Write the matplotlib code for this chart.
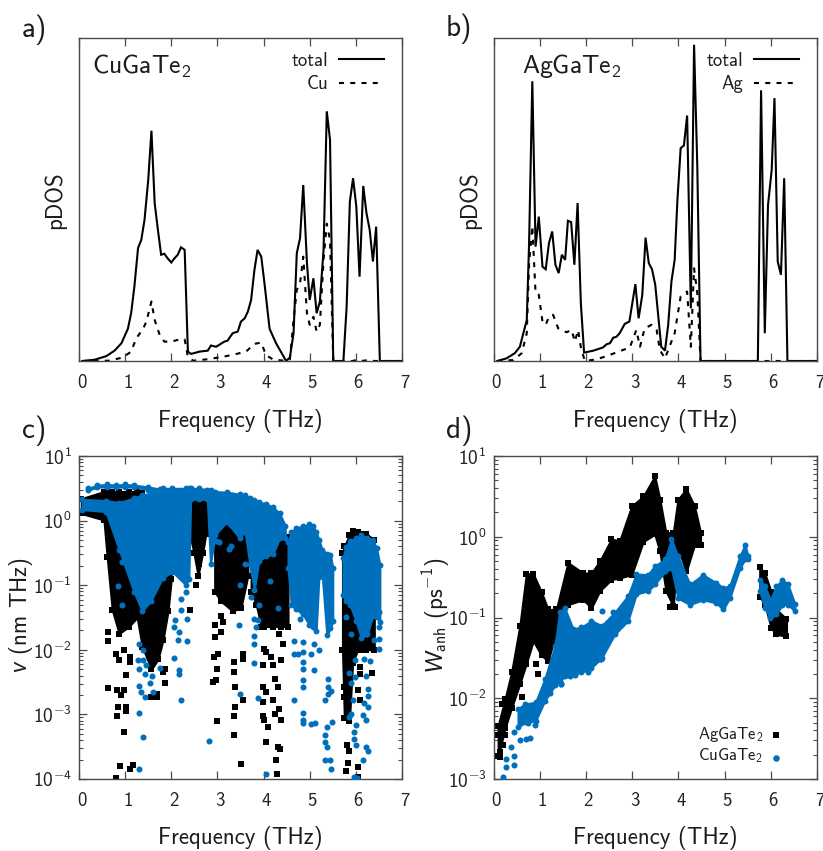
import numpy as np
import matplotlib
matplotlib.use('Agg')
import matplotlib.pyplot as plt
from matplotlib.lines import Line2D
from matplotlib.ticker import FixedLocator, NullFormatter
from matplotlib.transforms import ScaledTranslation

plt.rcParams['font.family'] = ['cmss10', 'DejaVu Sans']
plt.rcParams['mathtext.fontset'] = 'custom'
plt.rcParams['mathtext.rm'] = 'cmss10'
plt.rcParams['mathtext.sf'] = 'cmss10'
plt.rcParams['mathtext.it'] = 'Lato:italic'
plt.rcParams['mathtext.fallback'] = 'cm'
plt.rcParams['axes.unicode_minus'] = False

W, H = 823, 851
BLUE = '#0070bc'
EDGE = '#4a4a4a'

# a) CuGaTe2 pDOS
cu_freq = [0.07, 0.34, 0.59, 0.77, 0.92, 1.06, 1.13, 1.20, 1.28, 1.35, 1.42, 1.50, 1.57, 1.64, 1.71, 1.78, 1.85, 1.92, 2.00, 2.07, 2.14, 2.21, 2.29, 2.36, 2.43, 2.61, 2.79, 2.86, 2.97, 3.15, 3.22, 3.33, 3.44, 3.51, 3.59, 3.66, 3.73, 3.80, 3.87, 3.95, 4.02, 4.13, 4.27, 4.49, 4.57, 4.65, 4.72, 4.79, 4.86, 4.94, 5.00, 5.08, 5.15, 5.22, 5.30, 5.37, 5.44, 5.51, 5.73, 5.80, 5.87, 5.94, 6.01, 6.08, 6.16, 6.23, 6.30, 6.37, 6.44, 6.52, 7.00]
cu_total = [0, 0.4, 1.5, 3.2, 5.5, 10, 14.8, 23, 35, 37.5, 43.7, 56, 71.3, 48.9, 40.6, 32.9, 33.2, 31.8, 30.5, 31.8, 32.9, 35.2, 34.4, 2.9, 2.2, 2.9, 3.2, 4.8, 4.4, 6, 6.3, 8.6, 9.1, 12.2, 13.2, 15.3, 18.9, 28, 34.4, 32.3, 24, 10, 5.5, 0, 1.1, 8.6, 33.4, 38, 54.5, 30.3, 18.9, 25.6, 14.8, 18.4, 34.4, 77.3, 68.5, 0, 0, 16.8, 49.4, 56.6, 47.8, 26.1, 54.2, 45.8, 40.6, 30.8, 41.6, 0, 0]
cu_part_freq = [0.07, 0.66, 0.95, 1.13, 1.24, 1.39, 1.46, 1.57, 1.64, 1.75, 1.85, 2.00, 2.18, 2.29, 2.36, 2.47, 2.76, 3.04, 3.33, 3.62, 3.80, 3.95, 4.05, 4.20, 4.49, 4.57, 4.65, 4.72, 4.79, 4.86, 4.94, 5.00, 5.08, 5.15, 5.22, 5.30, 5.37, 5.44, 5.51, 5.93, 6.00, 6.11, 6.29, 6.40, 7.00]
cu_part = [0, 0.1, 1.1, 2.9, 7, 10, 12.2, 18.4, 12.7, 8, 6, 6, 6.7, 6.7, 1.3, 0.1, 0.5, 1.1, 1.9, 2.9, 5.3, 5.7, 1.9, 0.5, 0, 0.5, 12.7, 22, 24, 32.3, 14.8, 11.2, 13.7, 9.1, 11.2, 31.3, 42.5, 37.5, 0, 0, 0.3, 0, 0.3, 0, 0]

# b) AgGaTe2 pDOS
ag_freq = [0.08, 0.28, 0.46, 0.57, 0.72, 0.77, 0.84, 0.91, 0.98, 1.06, 1.13, 1.20, 1.27, 1.34, 1.41, 1.48, 1.55, 1.61, 1.68, 1.75, 1.82, 1.89, 1.96, 2.16, 2.37, 2.45, 2.52, 2.59, 2.66, 2.73, 2.84, 2.94, 3.07, 3.14, 3.22, 3.29, 3.36, 3.43, 3.50, 3.58, 3.63, 3.71, 3.78, 3.85, 3.92, 3.98, 4.05, 4.12, 4.19, 4.27, 4.34, 4.41, 4.48, 5.72, 5.79, 5.87, 5.94, 6.02, 6.08, 6.15, 6.22, 6.29, 6.36, 7.00]
ag_total = [0, 0.8, 2.4, 4.4, 12.7, 36.5, 86.6, 35.4, 44.7, 29.2, 28.4, 36.5, 40.1, 29.8, 27.2, 32.9, 31.3, 43.4, 43, 29.8, 48.9, 17.9, 2.6, 3.2, 4.2, 5.2, 5.5, 7.2, 7.5, 8.6, 11.5, 12.2, 23.8, 13.2, 20.5, 38.2, 30.3, 28.4, 23.6, 11.7, 4.4, 3.2, 11.2, 24.6, 31.3, 49.9, 65.9, 66.7, 76, 16.3, 97.9, 60.2, 0, 0, 83.8, 8.6, 48.3, 59.2, 81.4, 30.8, 26.7, 56.6, 0, 0]
ag_part_freq = [0.08, 0.43, 0.61, 0.72, 0.77, 0.84, 0.91, 0.98, 1.06, 1.13, 1.20, 1.29, 1.40, 1.58, 1.69, 1.76, 1.83, 1.90, 1.98, 2.23, 2.52, 2.95, 3.09, 3.17, 3.27, 3.42, 3.53, 3.60, 3.71, 3.78, 3.92, 4.05, 4.19, 4.27, 4.34, 4.41, 4.48, 5.97, 6.05, 6.12, 7.00]
ag_part = [0, 0.3, 2.4, 8.6, 30, 41.8, 21, 20.5, 12.2, 11.2, 13.7, 14.3, 10.1, 8.9, 9.6, 6, 9.6, 3.4, 0, 0.5, 1.9, 4.2, 9.6, 4.4, 10.1, 11.2, 9.6, 3.4, 0.8, 3.4, 8.6, 20, 21.5, 4.4, 28.7, 21, 0, 0, 0.2, 0, 0]

# c) group velocity, log10 values. Dense masses are given as upper / lower edges
v_ag_groups = [
    ([0.05, 0.54, 0.61, 0.72, 0.87, 1.08, 1.26, 1.37, 1.57, 1.71, 1.82, 1.93, 2.00],
     [0.34, 0.45, 0.45, 0.45, 0.45, 0.45, 0.45, 0.42, 0.30, 0.30, 0.30, 0.30, 0.20],
     [0.11, 0.01, -0.56, -1.38, -1.75, -1.64, -1.50, -1.95, -2.30, -2.15, -1.85, -1.40, -0.90]),
    ([2.40, 2.49, 2.58, 2.68, 2.75, 2.90, 3.01],
     [0.30, 0.30, 0.30, 0.30, 0.30, 0.28, 0.20],
     [-0.20, -0.50, -0.85, -0.50, -0.20, 0.10, 0.15]),
    ([2.94, 3.08, 3.33, 3.51, 3.66],
     [-0.25, -0.02, -0.02, -0.10, -0.40],
     [-1.10, -1.25, -1.40, -1.35, -0.85]),
    ([3.73, 3.84, 3.95, 4.02, 4.20, 4.38, 4.53],
     [-0.50, -0.50, -0.55, -0.55, -0.45, -0.30, -0.25],
     [-1.10, -1.30, -1.64, -1.64, -1.64, -1.64, -1.64]),
    ([5.71, 5.75, 5.86, 5.93, 6.04, 6.15, 6.22, 6.40],
     [-0.50, -0.40, -0.22, -0.16, -0.17, -0.20, -0.20, -0.30],
     [-2.00, -3.05, -3.10, -2.20, -2.00, -2.00, -2.00, -2.00]),
]
v_cu_groups = [
    ([0.20, 0.40, 0.60, 0.80, 1.00, 1.20, 1.50, 1.75],
     [0.50, 0.55, 0.56, 0.55, 0.56, 0.55, 0.52, 0.49],
     [0.47, 0.52, 0.52, 0.52, 0.52, 0.52, 0.48, 0.46]),
    ([0.07, 0.58, 0.87, 1.19, 1.37, 1.55, 1.81, 2.02, 2.31, 2.38, 2.42, 2.60, 2.78, 2.85, 2.95, 3.20, 3.48, 3.60, 3.70, 3.80, 3.90, 4.05, 4.20, 4.35, 4.47],
     [0.33, 0.31, 0.28, 0.35, 0.40, 0.42, 0.50, 0.50, 0.50, 0.50, 0.50, 0.50, 0.48, 0.47, 0.45, 0.44, 0.41, 0.39, 0.35, 0.32, 0.29, 0.26, 0.21, 0.11, -0.08],
     [0.17, 0.14, -0.45, -1.10, -1.40, -1.25, -0.89, -0.79, -0.99, -0.90, 0.33, 0.33, 0.33, -0.67, -0.22, -0.02, -0.27, -0.17, -0.67, -1.07, -0.62, -0.55, -0.52, -0.27, -0.27]),
    ([4.53, 4.60, 4.70, 4.85, 4.99, 5.07, 5.14, 5.20, 5.27, 5.37, 5.45, 5.50],
     [-0.33, -0.18, -0.11, -0.09, -0.06, -0.09, -0.17, -0.30, -0.45, -0.51, -0.53, -0.73],
     [-0.74, -1.30, -1.37, -1.45, -1.61, -1.65, -1.71, -0.87, -0.84, -1.77, -1.67, -1.55]),
    ([5.72, 5.78, 5.87, 6.00, 6.12, 6.25, 6.37, 6.45, 6.52],
     [-0.58, -0.41, -0.31, -0.27, -0.23, -0.27, -0.30, -0.43, -0.68],
     [-1.15, -1.25, -1.30, -1.55, -1.82, -1.75, -1.47, -1.50, -1.57]),
]
v_ag_freq = [0.63, 0.63, 0.63, 0.81, 0.87, 0.97, 1.10, 1.10, 1.01, 0.82, 0.97, 0.91, 0.84, 0.83, 1.01, 1.01, 0.97, 0.88, 0.81, 1.10, 1.18, 1.87, 1.87, 1.82, 1.69, 1.57, 1.69, 2.99, 2.91, 2.97, 2.99, 2.92, 3.02, 2.94, 3.08, 2.94, 3.13, 3.08, 3.35, 3.35, 3.55, 3.55, 3.39, 3.55, 3.39, 3.35, 3.35, 3.51, 4.05, 3.98, 4.02, 4.05, 4.16, 4.20, 4.24, 3.98, 4.05, 4.31, 3.98, 4.20, 4.34, 4.24, 3.98, 4.02, 4.38, 4.09, 4.31, 4.36, 4.26, 4.29, 5.75, 5.75, 5.82, 6.08, 6.08, 6.04, 6.08, 6.35, 5.80, 5.86, 5.82, 5.79, 6.04, 6.04, 2.40, 2.54, 2.61, 4.34, 4.42, 4.38]
v_ag_log = [-1.73, -1.87, -2.59, -2.07, -2.16, -2.01, -2.11, -2.19, -2.39, -2.63, -2.62, -2.70, -2.88, -3.03, -2.88, -2.95, -3.28, -3.80, -3.98, -3.85, -3.79, -2.52, -2.29, -2.34, -2.73, -2.73, -2.68, -3.10, -2.50, -2.47, -2.29, -2.11, -2.06, -1.80, -1.72, -1.62, -1.57, -1.47, -2.19, -2.34, -2.14, -2.06, -2.57, -2.77, -2.89, -3.02, -3.32, -3.77, -3.43, -2.24, -1.98, -2.03, -2.11, -2.24, -2.45, -2.58, -2.65, -2.58, -2.81, -2.78, -2.91, -2.99, -3.02, -3.09, -3.09, -3.20, -3.50, -3.54, -3.70, -3.93, -2.58, -2.73, -2.89, -2.27, -2.37, -2.63, -2.78, -2.36, -3.48, -3.56, -3.76, -3.87, -3.82, -3.97, -1.38, -0.99, -0.67, -1.75, -1.91, -2.16]
v_cu_freq = [1.29, 1.31, 1.39, 1.28, 1.39, 1.46, 1.31, 1.42, 1.53, 1.59, 1.35, 1.42, 1.60, 1.76, 1.31, 1.39, 1.30, 2.22, 2.16, 2.16, 2.05, 2.14, 2.34, 2.16, 2.05, 2.07, 2.34, 2.22, 2.22, 2.32, 2.81, 4.05, 3.80, 3.87, 3.48, 3.46, 4.14, 3.48, 3.29, 3.30, 2.97, 3.04, 3.26, 3.59, 4.65, 4.65, 4.67, 4.74, 4.85, 4.85, 4.86, 4.86, 4.86, 4.86, 4.85, 4.86, 4.86, 5.03, 5.12, 5.10, 5.21, 5.10, 5.03, 5.39, 5.39, 5.39, 5.46, 5.34, 5.38, 5.48, 5.34, 5.34, 5.37, 5.34, 5.43, 5.46, 5.97, 6.02, 5.86, 5.99, 5.89, 5.99, 6.18, 6.31, 6.22, 6.26, 6.26, 6.18, 6.26, 6.15, 6.22, 5.93, 5.89, 5.86, 6.00, 5.95, 5.97, 6.00, 6.22, 6.26, 6.16, 6.50, 6.50, 6.50, 6.50, 6.40, 6.22, 5.89, 5.79, 4.78, 3.80, 3.87, 3.80, 3.80, 4.31, 3.91, 3.73, 3.84, 0.94, 0.84, 0.94, 0.99]
v_cu_log = [-2.56, -1.91, -2.01, -2.16, -2.16, -2.24, -2.29, -2.37, -2.52, -2.40, -2.65, -2.73, -2.65, -2.28, -2.98, -3.35, -3.84, -2.77, -2.32, -2.37, -2.13, -1.85, -1.86, -1.72, -1.65, -1.54, -1.53, -1.39, -1.21, -1.11, -3.41, -3.92, -2.20, -2.74, -2.68, -1.61, -0.94, -1.00, -0.07, -0.40, -0.32, -0.33, -0.44, -0.67, -2.78, -1.86, -2.06, -2.06, -2.03, -2.19, -1.88, -2.29, -2.46, -2.58, -2.98, -3.09, -3.14, -3.15, -3.14, -2.31, -2.01, -1.91, -2.06, -2.45, -2.58, -2.68, -2.64, -2.77, -3.20, -3.12, -3.32, -3.43, -3.50, -3.70, -3.71, -3.84, -3.97, -3.99, -2.36, -2.16, -2.51, -2.42, -2.14, -2.18, -2.40, -2.60, -2.71, -2.83, -2.89, -3.01, -3.09, -2.78, -2.99, -3.04, -3.17, -3.27, -3.38, -3.48, -3.50, -3.56, -3.70, -1.98, -1.83, -1.65, -1.41, -1.85, -1.75, -1.75, -1.49, -1.52, -1.52, -1.54, -1.78, -1.91, -1.36, -1.31, -1.18, -1.65, -1.31, -1.02, -0.64, -0.54]

# d) anharmonic scattering, log10 values
w_ag_groups = [
    ([0.10, 0.25, 0.39, 0.57, 0.71, 0.86, 1.04, 1.18, 1.36, 1.61, 1.94, 2.12, 2.30, 2.55, 2.73, 2.99, 3.24, 3.49, 3.60, 3.73, 3.89, 3.99, 4.17, 4.35, 4.48],
     [-2.34, -2.01, -1.68, -1.10, -0.46, -0.46, -0.69, -0.90, -0.90, -0.32, -0.45, -0.45, -0.30, -0.03, -0.05, 0.38, 0.50, 0.75, 0.46, 0.05, 0.05, 0.46, 0.59, 0.38, 0.05],
     [-2.72, -2.37, -2.12, -1.82, -1.57, -1.29, -1.47, -1.54, -1.17, -0.84, -0.78, -0.88, -0.67, -0.53, -0.51, -0.47, -0.06, 0.03, -0.18, -0.67, -0.86, -0.14, -0.43, -0.10, -0.10]),
    ([5.76, 5.87, 6.01, 6.12, 6.34],
     [-0.38, -0.45, -0.69, -0.90, -1.02],
     [-0.74, -0.84, -1.13, -1.21, -1.23]),
]
w_cu_groups = [
    ([0.53, 0.68, 0.91, 1.11, 1.33, 1.43, 1.54, 1.72, 1.90, 2.12, 2.34, 2.62, 2.91, 3.09, 3.34, 3.49, 3.71, 3.85, 3.99, 4.25, 4.53, 4.82, 4.97, 5.11, 5.33, 5.44, 5.51],
     [-2.13, -2.07, -2.05, -1.76, -1.35, -0.93, -0.88, -1.14, -1.12, -1.04, -1.10, -0.94, -0.73, -0.46, -0.47, -0.36, -0.28, -0.03, -0.24, -0.59, -0.47, -0.57, -0.63, -0.61, -0.24, -0.10, -0.24],
     [-2.36, -2.30, -2.28, -2.03, -1.84, -1.79, -1.73, -1.70, -1.68, -1.62, -1.50, -1.21, -1.04, -0.71, -0.67, -0.59, -0.43, -0.39, -0.76, -0.84, -0.78, -0.82, -0.90, -0.76, -0.39, -0.28, -0.28]),
    ([5.76, 5.87, 5.99, 6.12, 6.25, 6.37, 6.52],
     [-0.53, -0.61, -0.78, -0.61, -0.53, -0.59, -0.83],
     [-0.67, -0.88, -1.01, -0.96, -0.84, -0.84, -0.92]),
]
w_ag_freq = [0.97, 3.81, 3.92, 0.14, 0.14, 0.20, 0.10, 0.25, 0.21, 0.18, 0.61, 0.93]
w_ag_log = [-1.70, -0.87, -0.87, -2.67, -2.73, -2.58, -2.46, -2.46, -2.31, -2.07, -1.98, -1.57]
w_cu_freq = [0.21, 0.28, 0.28, 0.45, 0.44, 0.38, 0.45, 0.57, 0.70, 0.79, 2.35, 2.59, 2.30, 2.05, 1.65, 1.47, 2.32, 2.05, 1.76, 1.47, 1.22, 0.89, 0.75]
w_cu_log = [-2.98, -2.75, -2.85, -2.83, -2.71, -2.60, -2.42, -2.52, -2.50, -2.49, -0.92, -0.93, -1.51, -1.68, -1.72, -1.82, -1.51, -1.65, -1.71, -1.82, -1.94, -2.33, -2.31]

freq_ticks = [0, 1, 2, 3, 4, 5, 6, 7]


def make_axes(fig, x0, y0, x1, y1):
    ax = fig.add_axes([x0 / W, 1 - y1 / H, (x1 - x0) / W, (y1 - y0) / H])
    ax.set_xlim(0, 7)
    ax.set_xticks(freq_ticks)
    ax.tick_params(which='major', direction='in', top=True, right=True, length=6, width=0.9, color=EDGE,
                   labelsize=13.5, labelcolor='#222222', pad=9)
    ax.tick_params(which='minor', direction='in', top=True, right=True, length=3, width=0.8, color=EDGE)
    for spine in ax.spines.values():
        spine.set_color(EDGE)
        spine.set_linewidth(1.0)
    # the x labels sit a little right of their ticks in the original
    shift = ScaledTranslation(2.5 / 100, 0, fig.dpi_scale_trans)
    for label in ax.get_xticklabels():
        label.set_transform(label.get_transform() + shift)
    return ax


def dos_panel(ax, freq, total, part_freq, part):
    ax.set_ylim(0, 100)
    ax.set_yticks([])
    ax.tick_params(axis='y', left=False, right=False)
    ax.plot(freq, total, color='black', lw=1.5, solid_joinstyle='miter')
    ax.plot(part_freq, part, color='black', lw=1.5, linestyle=(0, (2.4, 3.0)))


def log_panel(ax, y_low, y_high):
    ax.set_yscale('log')
    ax.set_ylim(y_low, y_high)
    exps = list(range(int(np.log10(y_low)), int(np.log10(y_high)) + 1))
    ax.yaxis.set_major_locator(FixedLocator([10.0 ** e for e in exps]))
    ax.set_yticklabels([r'$\mathrm{10^{%d}}$' % e for e in exps], fontsize=14)
    minor = [m * 10.0 ** e for e in exps[:-1] for m in range(2, 10)]
    ax.yaxis.set_minor_locator(FixedLocator(minor))
    ax.yaxis.set_minor_formatter(NullFormatter())
    ax.tick_params(axis='y', which='major', pad=5)


def draw_groups(ax, groups, color, marker, z):
    # solid mass plus a marker on each edge point, the cloud is too dense to read one by one
    for freq, hi, lo in groups:
        hi_v = 10.0 ** np.array(hi)
        lo_v = 10.0 ** np.array(lo)
        ax.fill_between(freq, lo_v, hi_v, facecolor=color, edgecolor=color, linewidth=1.5, zorder=z)
        ax.scatter(freq, hi_v, c=color, marker=marker, s=18, linewidths=0, zorder=z)
        ax.scatter(freq, lo_v, c=color, marker=marker, s=18, linewidths=0, zorder=z)


def draw_points(ax, freq, logs, color, marker, size, z):
    ax.scatter(freq, 10.0 ** np.array(logs), c=color, marker=marker, s=size, linewidths=0, zorder=z)


fig = plt.figure(figsize=(W / 100, H / 100), dpi=100)


def put_text(px, py, s, size, ha='center', va='center', rotation=0):
    fig.text(px / W, 1 - py / H, s, fontsize=size, ha=ha, va=va, rotation=rotation, color='#1c1c1c')


def key_line(x0, x1, py, **style):
    fig.add_artist(Line2D([x0 / W, x1 / W], [1 - py / H, 1 - py / H], color='black', lw=1.5, **style))


ax_a = make_axes(fig, 79, 38, 402, 361)
dos_panel(ax_a, cu_freq, cu_total, cu_part_freq, cu_part)
ax_b = make_axes(fig, 493.5, 38, 817, 361)
dos_panel(ax_b, ag_freq, ag_total, ag_part_freq, ag_part)

ax_c = make_axes(fig, 79, 456, 402, 779)
log_panel(ax_c, 1e-4, 10)
draw_groups(ax_c, v_ag_groups, 'black', 's', 2)
draw_points(ax_c, v_ag_freq, v_ag_log, 'black', 's', 17, 2)
draw_groups(ax_c, v_cu_groups, BLUE, 'o', 3)
draw_points(ax_c, v_cu_freq, v_cu_log, BLUE, 'o', 19, 3)

ax_d = make_axes(fig, 493.5, 456, 817, 779)
log_panel(ax_d, 1e-3, 10)
draw_groups(ax_d, w_ag_groups, 'black', 's', 2)
draw_points(ax_d, w_ag_freq, w_ag_log, 'black', 's', 17, 2)
draw_groups(ax_d, w_cu_groups, BLUE, 'o', 3)
draw_points(ax_d, w_cu_freq, w_cu_log, BLUE, 'o', 19, 3)

# panel letters
put_text(34, 30, 'a)', 21)
put_text(459, 29, 'b)', 21)
put_text(34, 431, 'c)', 21)
put_text(459, 431, 'd)', 21)

# compound names
put_text(92, 66, r'$\mathrm{CuGaTe_2}$', 18.5, ha='left')
put_text(522, 66, r'$\mathrm{AgGaTe_2}$', 18.5, ha='left')

# axis labels
for x in (240, 655):
    put_text(x, 421, 'Frequency (THz)', 16.5)
    put_text(x, 838, 'Frequency (THz)', 16.5)
put_text(55, 200, 'pDOS', 16.5, rotation=90)
put_text(470, 200, 'pDOS', 16.5, rotation=90)
put_text(21, 615, r'$\mathit{v}$ (nm THz)', 16.5, rotation=90)
put_text(436, 615, r'$\mathit{W}_{\mathrm{anh}}$ $\mathrm{(ps^{-1})}$', 16.5, rotation=90)

# legends of the pDOS panels
for name, tx in (('Cu', 328), ('Ag', 743)):
    put_text(tx, 61, 'total', 13.5, ha='right')
    put_text(tx, 84, name, 13.5, ha='right')
    key_line(tx + 11, tx + 56, 59)
    key_line(tx + 11, tx + 56, 83, linestyle=(0, (2.4, 3.0)))

# legend of panel d
put_text(763, 735, r'$\mathrm{AgGaTe_2}$', 12, ha='right')
put_text(763, 756, r'$\mathrm{CuGaTe_2}$', 12, ha='right')
ax_d.scatter([0.873], [0.136], transform=ax_d.transAxes, c='black', marker='s', s=20, linewidths=0, zorder=5)
ax_d.scatter([0.873], [0.065], transform=ax_d.transAxes, c=BLUE, marker='o', s=22, linewidths=0, zorder=5)

fig.savefig('out.png', dpi=100)
